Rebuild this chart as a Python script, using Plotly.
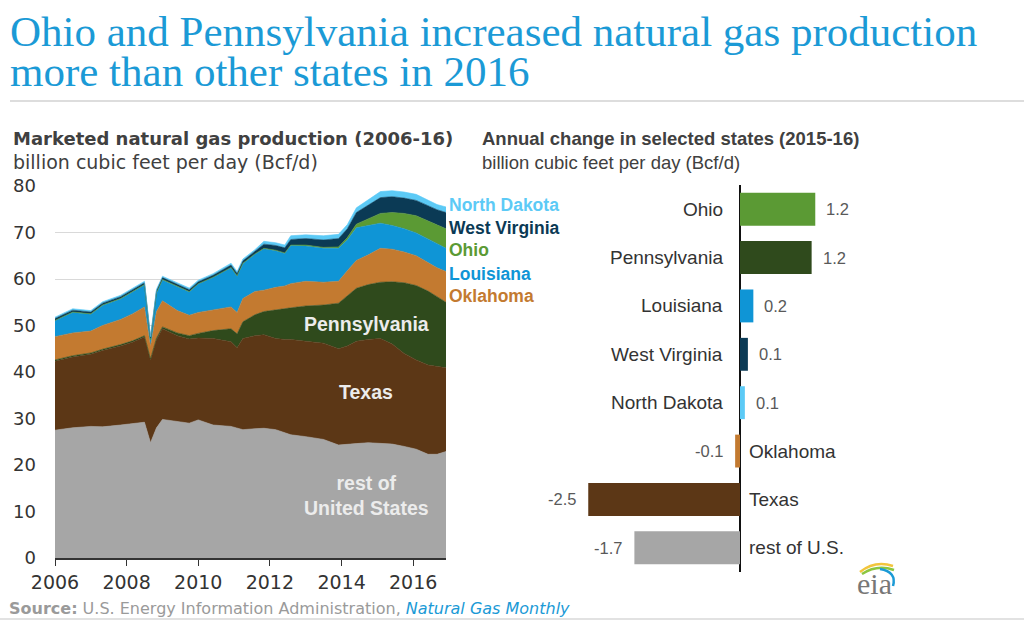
import plotly.graph_objects as go

# ---------------- data ----------------
dates = ["2006-01-01", "2006-07-01", "2007-01-01", "2007-05-01", "2007-11-01", "2008-03-01",
         "2008-07-01", "2008-09-01", "2008-11-01", "2009-01-01", "2009-06-01", "2009-10-01",
         "2010-01-01", "2010-06-01", "2010-12-01", "2011-02-01", "2011-04-01", "2011-08-01",
         "2011-11-01", "2012-03-01", "2012-06-01", "2012-08-01", "2013-01-01", "2013-07-01",
         "2013-12-01", "2014-03-01", "2014-06-01", "2014-10-01", "2015-02-01", "2015-06-01",
         "2015-10-01", "2016-02-01", "2016-06-01", "2016-09-01", "2016-12-01"]

rest_us = [27.5, 28.0, 28.3, 28.2, 28.6, 28.9, 29.2, 24.8, 28.0, 29.8, 29.3, 29.0, 29.7, 28.6,
           28.3, 28.0, 27.6, 27.8, 27.9, 27.6, 27.0, 26.5, 26.1, 25.5, 24.3, 24.5, 24.6, 24.8,
           24.7, 24.5, 24.0, 23.4, 22.3, 22.3, 22.9]
texas = [14.8, 15.2, 15.5, 16.4, 17.0, 17.5, 18.3, 17.7, 19.0, 19.5, 18.5, 18.1, 17.6, 18.6,
         18.2, 17.2, 19.6, 20.0, 20.1, 19.6, 20.0, 20.5, 20.5, 20.7, 20.7, 21.1, 22.0, 22.2,
         22.5, 21.5, 20.0, 19.2, 19.2, 18.9, 18.0]
pennsylvania = [0.3, 0.3, 0.3, 0.3, 0.3, 0.3, 0.3, 0.3, 0.3, 0.4, 0.6, 0.7, 1.0, 1.7, 2.8, 3.0,
                3.6, 4.5, 5.0, 6.1, 6.5, 6.8, 7.6, 8.2, 9.8, 10.7, 11.4, 11.8, 12.1, 13.4, 15.2,
                16.0, 15.9, 15.0, 14.1]
oklahoma = [5.0, 4.9, 4.7, 5.1, 5.4, 5.8, 6.2, 2.7, 5.7, 5.6, 4.8, 4.4, 4.5, 4.4, 4.7, 4.6,
            5.0, 5.0, 4.6, 4.9, 5.0, 5.2, 5.3, 4.9, 4.7, 5.5, 6.0, 6.4, 7.3, 7.0, 6.6, 6.4,
            6.2, 6.2, 6.6]
louisiana = [3.4, 4.4, 3.6, 4.3, 4.4, 4.7, 4.7, 1.3, 4.0, 4.5, 5.2, 5.0, 6.1, 7.0, 8.4, 7.8,
             7.5, 8.0, 8.9, 7.9, 7.0, 8.2, 7.6, 7.3, 7.1, 6.6, 7.0, 6.3, 5.4, 5.1, 5.0, 4.9,
             4.9, 5.2, 5.0]
ohio = [0.1, 0.1, 0.1, 0.1, 0.1, 0.1, 0.1, 0.1, 0.1, 0.1, 0.1, 0.1, 0.1, 0.1, 0.1, 0.1,
        0.1, 0.1, 0.1, 0.1, 0.1, 0.1, 0.2, 0.2, 0.3, 0.5, 0.8, 1.4, 2.1, 2.8, 3.3, 3.7,
        4.0, 4.1, 4.2]
west_virginia = [0.4, 0.4, 0.4, 0.4, 0.4, 0.4, 0.4, 0.4, 0.4, 0.4, 0.4, 0.4, 0.4, 0.4, 0.5,
                 0.5, 0.5, 0.5, 0.9, 1.0, 1.1, 1.2, 1.4, 1.6, 1.8, 1.9, 2.5, 3.0, 3.4, 3.4,
                 3.3, 3.3, 3.2, 3.2, 3.5]
north_dakota = [0.3, 0.3, 0.3, 0.3, 0.3, 0.3, 0.3, 0.3, 0.3, 0.3, 0.35, 0.35, 0.35, 0.35,
                0.4, 0.4, 0.4, 0.4, 0.6, 0.6, 0.6, 0.8, 0.8, 0.9, 0.9, 0.9, 1.0, 1.2, 1.3,
                1.3, 1.3, 1.3, 1.2, 1.1, 1.2]

bar_states = ["Ohio", "Pennsylvania", "Louisiana", "West Virginia", "North Dakota",
              "Oklahoma", "Texas", "rest of U.S."]
bar_change = [1.24, 1.18, 0.22, 0.13, 0.08, -0.08, -2.50, -1.74]
bar_value_labels = ["1.2", "1.2", "0.2", "0.1", "0.1", "-0.1", "-2.5", "-1.7"]

y_ticks = [0, 10, 20, 30, 40, 50, 60, 70, 80]

# ---------------- style ----------------
W, H = 1024, 621
def px(x):
    return x / W
def py(y):
    return 1 - y / H

C_REST = "#a6a6a6"
C_TX = "#5c3716"
C_PA = "#2f4a1c"
C_OK = "#c37a30"
C_LA = "#0f95d6"
C_OH = "#5b9a34"
C_WV = "#0b3a55"
C_ND = "#5ccaf6"
TITLE_BLUE = "#1b9ad6"
SANS = "Liberation Sans, Arial, sans-serif"
WIDE = "DejaVu Sans, Verdana, sans-serif"
SERIF = "Liberation Serif, Times New Roman, serif"

fig = go.Figure()

layers = [("rest of United States", rest_us, C_REST), ("Texas", texas, C_TX),
          ("Pennsylvania", pennsylvania, C_PA), ("Oklahoma", oklahoma, C_OK),
          ("Louisiana", louisiana, C_LA), ("Ohio", ohio, C_OH),
          ("West Virginia", west_virginia, C_WV), ("North Dakota", north_dakota, C_ND)]
for name, vals, col in layers:
    fig.add_trace(go.Scatter(x=dates, y=vals, name=name, stackgroup="prod", mode="lines",
                             line=dict(width=0.6, color=col), fillcolor=col,
                             xaxis="x", yaxis="y"))

bar_colors = [C_OH, C_PA, C_LA, C_WV, C_ND, C_OK, C_TX, C_REST]
fig.add_trace(go.Bar(x=bar_change, y=bar_states, orientation="h", marker_color=bar_colors,
                     marker_line_width=0, width=0.68, xaxis="x2", yaxis="y2"))

# plot area geometry (pixels)
L_X0, L_X1 = 55, 446
L_Y0, L_Y1 = 186, 558
R_X0, R_X1 = 560, 930
ZERO_X = 740
PX_PER_UNIT = 60.7
R_Y0, R_Y1 = 185, 572

annotations = []
# titles
for txt, yy in [("Ohio and Pennsylvania increased natural gas production", 31),
                ("more than other states in 2016", 72)]:
    annotations.append(dict(text=txt, x=px(8), y=py(yy), xref="paper", yref="paper",
                            xanchor="left", yanchor="middle", showarrow=False,
                            font=dict(family=SERIF, size=43, color=TITLE_BLUE)))
# left panel headings (wider face, the left panel is drawn wide)
annotations.append(dict(text="<b>Marketed natural gas production (2006-16)</b>", x=px(11),
                        y=py(138), xref="paper", yref="paper", xanchor="left",
                        yanchor="middle", showarrow=False,
                        font=dict(family=WIDE, size=18, color="#404040")))
annotations.append(dict(text="billion cubic feet per day (Bcf/d)", x=px(11), y=py(162),
                        xref="paper", yref="paper", xanchor="left", yanchor="middle",
                        showarrow=False, font=dict(family=WIDE, size=19, color="#404040")))
# right panel headings
annotations.append(dict(text="<b>Annual change in selected states (2015-16)</b>", x=px(480),
                        y=py(138), xref="paper", yref="paper", xanchor="left",
                        yanchor="middle", showarrow=False,
                        font=dict(family=SANS, size=18.5, color="#404040")))
annotations.append(dict(text="billion cubic feet per day (Bcf/d)", x=px(480), y=py(162),
                        xref="paper", yref="paper", xanchor="left", yanchor="middle",
                        showarrow=False, font=dict(family=SANS, size=18.5, color="#404040")))

# right-side layer labels
for txt, yv, col in [("North Dakota", 75.9, C_ND), ("West Virginia", 71.0, C_WV),
                     ("Ohio", 66.2, C_OH), ("Louisiana", 61.1, C_LA),
                     ("Oklahoma", 56.3, C_OK)]:
    annotations.append(dict(text="<b>" + txt + "</b>", x=px(447), y=yv, xref="paper",
                            yref="y", xanchor="left", yanchor="middle", showarrow=False,
                            font=dict(family=SANS, size=17.5, color=col)))

# in-area labels
for txt, yv in [("Pennsylvania", 50.3), ("Texas", 35.7), ("rest of<br>United States", 13.4)]:
    annotations.append(dict(text="<b>" + txt + "</b>", x=px(366), y=yv, xref="paper",
                            yref="y", xanchor="center", yanchor="middle", showarrow=False,
                            font=dict(family=SANS, size=19.5, color="#ececec")))

# bar labels
for st, v, lab in zip(bar_states, bar_change, bar_value_labels):
    if v >= 0:
        annotations.append(dict(text=st, x=0, y=st, xref="x2", yref="y2", xanchor="right",
                                xshift=-15, showarrow=False,
                                font=dict(family=SANS, size=19, color="#333333")))
        annotations.append(dict(text=lab, x=v, y=st, xref="x2", yref="y2", xanchor="left",
                                xshift=9, showarrow=False,
                                font=dict(family=SANS, size=16.5, color="#595959")))
    else:
        annotations.append(dict(text=st, x=0, y=st, xref="x2", yref="y2", xanchor="left",
                                xshift=7, showarrow=False,
                                font=dict(family=SANS, size=19, color="#333333")))
        annotations.append(dict(text=lab, x=v, y=st, xref="x2", yref="y2", xanchor="right",
                                xshift=-10, showarrow=False,
                                font=dict(family=SANS, size=16.5, color="#595959")))

# source
annotations.append(dict(
    text="<b>Source:</b> U.S. Energy Information Administration, "
         "<i><span style='color:#1b9ad6'>Natural Gas Monthly</span></i>",
    x=px(7), y=py(608), xref="paper", yref="paper", xanchor="left", yanchor="middle",
    showarrow=False, font=dict(family=WIDE, size=16, color="#9a9a9a")))

# eia logo text
annotations.append(dict(text="eia", x=px(874), y=py(583), xref="paper", yref="paper",
                        xanchor="center", yanchor="middle", showarrow=False,
                        font=dict(family=SERIF, size=30, color="#777777")))

shapes = [
    dict(type="line", xref="paper", yref="paper", x0=px(10), x1=1, y0=py(101), y1=py(101),
         line=dict(color="#dddddd", width=2)),
    dict(type="line", xref="paper", yref="paper", x0=0, x1=1, y0=py(619), y1=py(619),
         line=dict(color="#e2e2e2", width=2)),
    # eia swoosh
    dict(type="path", xref="paper", yref="paper",
         path=f"M {px(860)},{py(572)} Q {px(875)},{py(560)} {px(893)},{py(566)}",
         line=dict(color="#f2c53d", width=2.5)),
    dict(type="path", xref="paper", yref="paper",
         path=f"M {px(862)},{py(574)} Q {px(877)},{py(564)} {px(894)},{py(570)}",
         line=dict(color="#8cc63f", width=2.5)),
    dict(type="path", xref="paper", yref="paper",
         path=f"M {px(880)},{py(569)} Q {px(897)},{py(572)} {px(893)},{py(586)}",
         line=dict(color="#1b9ad6", width=2.5)),
]

fig.update_layout(
    width=W, height=H, margin=dict(l=0, r=0, t=0, b=0, autoexpand=False),
    paper_bgcolor="white", plot_bgcolor="white", showlegend=False,
    annotations=annotations, shapes=shapes,
    xaxis=dict(domain=[px(L_X0), px(L_X1)], type="date", automargin=False,
               range=["2006-01-01", "2016-12-01"], dtick="M24", tick0="2006-01-01",
               tickformat="%Y", showgrid=False, showline=True, linecolor="#333333",
               linewidth=1.5, ticks="outside", ticklen=6, tickcolor="#333333",
               tickfont=dict(family=WIDE, size=19, color="#333333"), anchor="y",
               fixedrange=True),
    yaxis=dict(domain=[py(L_Y1), py(L_Y0)], range=[0, 80], tickvals=y_ticks,
               automargin=False, showgrid=True, gridcolor="#d9d9d9", gridwidth=1,
               zeroline=False, showline=False, ticks="", ticklabelstandoff=18,
               tickfont=dict(family=WIDE, size=18, color="#333333"), anchor="x"),
    xaxis2=dict(domain=[px(R_X0), px(R_X1)], automargin=False,
                range=[-(ZERO_X - R_X0) / PX_PER_UNIT, (R_X1 - ZERO_X) / PX_PER_UNIT],
                showgrid=False, showticklabels=False, zeroline=True, zerolinecolor="#111111",
                zerolinewidth=1.5, showline=False, anchor="y2"),
    yaxis2=dict(domain=[py(R_Y1), py(R_Y0)], type="category", categoryorder="array",
                categoryarray=bar_states, range=[7.5, -0.5], showgrid=False, automargin=False,
                showticklabels=False, zeroline=False, showline=False, anchor="x2"),
)

fig.write_html("out.html", config={"displayModeBar": False},
               post_script="document.body.style.margin='0px';"
                           "document.body.style.overflow='hidden';")
